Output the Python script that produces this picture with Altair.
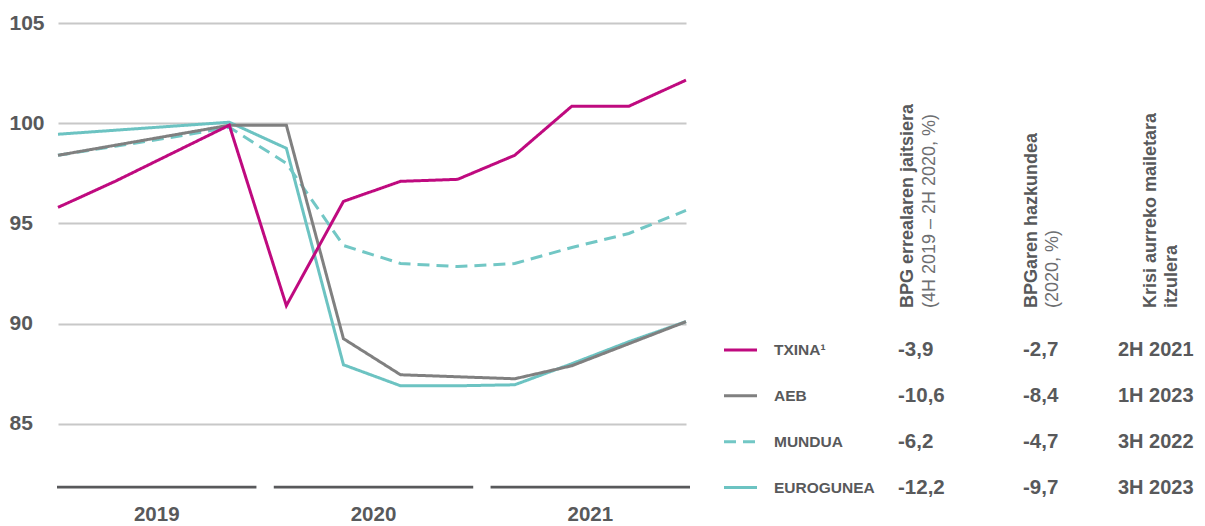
import altair as alt
import pandas as pd

# ---------------- data ----------------
quarters = list(range(12))  # 2019Q1 ... 2021Q4
quarter_labels = ["2019Q1", "2019Q2", "2019Q3", "2019Q4",
                  "2020Q1", "2020Q2", "2020Q3", "2020Q4",
                  "2021Q1", "2021Q2", "2021Q3", "2021Q4"]
txina = [95.8, 97.1, 98.5, 99.9, 90.9, 96.1, 97.1, 97.2, 98.4, 100.85, 100.85, 102.15]
aeb = [98.4, 98.9, 99.4, 99.9, 99.9, 89.25, 87.45, 87.35, 87.25, 87.9, 89.0, 90.1]
mundua = [98.4, 98.85, 99.3, 99.8, 98.0, 93.9, 93.0, 92.85, 93.0, 93.8, 94.5, 95.65]
eurogunea = [99.45, 99.65, 99.85, 100.05, 98.75, 87.95, 86.9, 86.9, 86.95, 88.0, 89.1, 90.1]

countries = ["TXINA", "AEB", "MUNDUA", "EUROGUNEA"]
country_labels = ["TXINA\u00b9", "AEB", "MUNDUA", "EUROGUNEA"]
gdp_drop = ["-3,9", "-10,6", "-6,2", "-12,2"]
gdp_growth = ["-2,7", "-8,4", "-4,7", "-9,7"]
recovery = ["2H 2021", "1H 2023", "3H 2022", "3H 2023"]

years = ["2019", "2020", "2021"]
y_ticks = [85, 90, 95, 100, 105]

header1_bold = "BPG errealaren jaitsiera"
header1_sub = "(4H 2019 \u2013 2H 2020, %)"
header2_bold = "BPGaren hazkundea"
header2_sub = "(2020, %)"
header3_line1 = "Krisi aurreko mailetara"
header3_line2 = "itzulera"

# ---------------- styles ----------------
FONT = "Liberation Sans"
TXT = "#58595b"
TXT_LIGHT = "#6d6e71"
colors = ["#bf0a7f", "#808080", "#72c7c5", "#6cc3c2"]
dashes = [[1, 0], [1, 0], [12, 7], [1, 0]]

series = {"TXINA": txina, "AEB": aeb, "MUNDUA": mundua, "EUROGUNEA": eurogunea}
long = pd.DataFrame([
    {"q": q, "ql": quarter_labels[i], "country": c, "value": v[i]}
    for c, v in series.items() for i, q in enumerate(quarters)
])

color_scale = alt.Scale(domain=countries, range=colors)
dash_scale = alt.Scale(domain=countries, range=dashes)

x_main = alt.X("q:Q", scale=alt.Scale(domain=[0, 11], nice=False, zero=False), axis=None)
y_main = alt.Y("value:Q", scale=alt.Scale(domain=[82, 105], nice=False, zero=False),
               axis=alt.Axis(values=y_ticks, title=None, domain=False, ticks=False, tickSize=0,
                             grid=True, gridColor="#c8c8c8", gridWidth=1.8,
                             labelAlign="left", labelPadding=49, labelFontSize=21,
                             labelFontWeight="bold", labelColor=TXT, labelFont=FONT,
                             labelBaseline="middle"))

draw_order = ["EUROGUNEA", "MUNDUA", "AEB", "TXINA"]
line_layers = []
for c in draw_order:
    line_layers.append(
        alt.Chart(long).transform_filter(alt.datum.country == c)
        .mark_line(strokeWidth=3, strokeJoin="miter", strokeCap="butt")
        .encode(x=x_main, y=y_main,
                color=alt.Color("country:N", scale=color_scale, legend=None),
                strokeDash=alt.StrokeDash("country:N", scale=dash_scale, legend=None))
    )
main = alt.layer(*line_layers)

# year markers under the plot
year_df = pd.DataFrame({"year": years})
year_scale = alt.Scale(type="band", domain=years, range=[-1, 632], paddingInner=0.08, paddingOuter=0)
year_rect = alt.Chart(year_df).mark_rect(color=TXT).encode(
    x=alt.X("year:N", scale=year_scale, axis=None),
    y=alt.value(462.7), y2=alt.value(465.5))
year_text = alt.Chart(year_df).mark_text(
    fontSize=20.5, fontWeight="bold", font=FONT, color=TXT, baseline="alphabetic"
).encode(x=alt.X("year:N", scale=year_scale, axis=None, bandPosition=0.5),
         y=alt.value(498), text="year:N")
years_layer = alt.layer(year_rect, year_text)

# table at the right
table = pd.DataFrame({"country": countries, "label": country_labels,
                      "drop": gdp_drop, "growth": gdp_growth, "recovery": recovery})
y_row = alt.Y("country:N", sort=countries,
              scale=alt.Scale(type="point", domain=countries, range=[327, 464.5], padding=0),
              axis=None)

legend_rule = alt.Chart(table).mark_rule(strokeWidth=3, strokeCap="butt").encode(
    x=alt.value(666), x2=alt.value(699), y=y_row,
    color=alt.Color("country:N", scale=color_scale, legend=None),
    strokeDash=alt.StrokeDash("country:N", scale=dash_scale, legend=None))

legend_text = alt.Chart(table).mark_text(
    align="left", baseline="middle", fontSize=15.5, fontWeight="bold", font=FONT, color=TXT
).encode(x=alt.value(716), y=y_row, text="label:N")

def value_col(field, xpos, size=20.5):
    return alt.Chart(table).mark_text(
        align="left", baseline="middle", fontSize=size, fontWeight="bold", font=FONT, color=TXT
    ).encode(x=alt.value(xpos), y=y_row, text=f"{field}:N")

def header(text, xpos, bold, color):
    return alt.Chart(pd.DataFrame({"t": [text]})).mark_text(
        angle=270, align="left", baseline="middle", fontSize=18,
        fontWeight="bold" if bold else "normal", font=FONT, color=color
    ).encode(x=alt.value(xpos), y=alt.value(285), text="t:N")

table_layer = alt.layer(
    legend_rule, legend_text,
    value_col("drop", 840), value_col("growth", 965), value_col("recovery", 1060, 20),
    header(header1_bold, 850, True, TXT), header(header1_sub, 872, False, TXT_LIGHT),
    header(header2_bold, 974, True, TXT), header(header2_sub, 995, False, TXT_LIGHT),
    header(header3_line1, 1093, True, TXT), header(header3_line2, 1114, True, TXT),
)

chart = alt.layer(main, years_layer, table_layer).resolve_scale(
    x="independent", y="independent"
).properties(
    width=628, height=461,
    padding={"left": 50, "top": 15, "right": 511, "bottom": 42},
    autosize=alt.AutoSizeParams(type="none"),
).configure_view(stroke=None).configure_text(font=FONT)

chart.save("out.html", embed_options={"renderer": "svg", "actions": False})
